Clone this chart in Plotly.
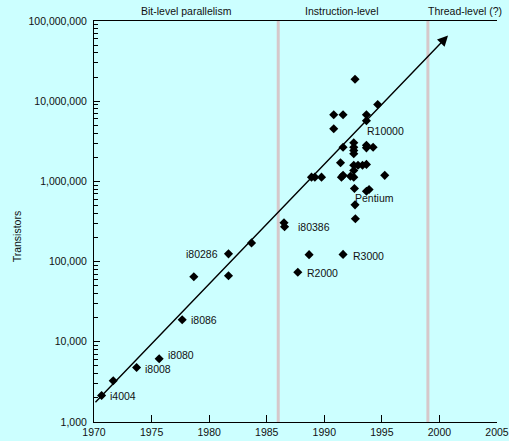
import math
import plotly.graph_objects as go

# ---- data ----
years = [1970.66, 1971.67, 1973.70, 1975.66, 1977.66, 1978.67, 1981.68, 1981.68, 1983.68,
         1986.50, 1986.55, 1992.70, 1988.68, 1991.63, 1987.70,
         1992.67, 1990.82, 1991.63, 1993.66, 1994.64, 1993.66, 1990.82,
         1991.63, 1992.56, 1992.56, 1992.56, 1992.56, 1993.66, 1993.66, 1994.24,
         1991.41, 1992.56, 1992.93, 1993.32, 1993.66, 1992.56,
         1991.63, 1991.49, 1992.27, 1992.56, 1995.25, 1988.89, 1989.18, 1989.76,
         1992.62, 1993.66, 1993.89, 1992.67]
transistors = [2140, 3270, 4780, 6140, 18800, 64600, 125000, 66500, 171000,
               305000, 272000, 342000, 122000, 123000, 73800,
               18.8e6, 6.77e6, 6.77e6, 6.77e6, 9.1e6, 5.7e6, 4.53e6,
               2.67e6, 3.03e6, 2.67e6, 2.43e6, 2.21e6, 2.82e6, 2.62e6, 2.67e6,
               1.71e6, 1.59e6, 1.59e6, 1.59e6, 1.63e6, 1.37e6,
               1.19e6, 1.13e6, 1.16e6, 1.13e6, 1.19e6, 1.13e6, 1.13e6, 1.13e6,
               815000, 755000, 792000, 510000]

label_names = ["i4004", "i8008", "i8080", "i8086", "i80286", "i80386",
               "R3000", "R2000", "R10000", "Pentium"]
label_points = [0, 2, 3, 4, 6, 9, 13, 14, 20, 44]

trend_years = [1970.0, 2000.75]
trend_values = [1690, 6.6e7]

era_names = ["Bit-level parallelism", "Instruction-level", "Thread-level (?)"]
era_centers = [1978.0, 1991.5, 2002.2]
era_bounds = [1986.0, 1999.0]

x_ticks = [1970, 1975, 1980, 1985, 1990, 1995, 2000, 2005]
y_ticks = [1e3, 1e4, 1e5, 1e6, 1e7, 1e8]
y_ticktext = ["1,000", "10,000", "100,000", "1,000,000", "10,000,000", "100,000,000"]
ref_lines = [1e4, 1e6]

# ---- styling ----
FONT = "Liberation Sans, Arial, Helvetica, sans-serif"
BG = "#ccffff"
label_style = {
    "i4004": ("left", 6, 0), "i8008": ("left", 6, -1), "i8080": ("left", 7, 4),
    "i8086": ("left", 7, 0), "i80286": ("right", -8, 0), "i80386": ("left", 12, -4),
    "R3000": ("left", 8, -2), "R2000": ("left", 7, -1), "R10000": ("left", -1, -10),
    "Pentium": ("left", -1, -9),
}

fig = go.Figure()

for xb in era_bounds:
    fig.add_shape(type="line", xref="x", yref="paper", x0=xb, x1=xb, y0=0, y1=1,
                  line=dict(color="#d6c8ca", width=3), layer="below")
for yl in ref_lines:
    fig.add_shape(type="line", xref="paper", yref="y", x0=0, x1=1,
                  y0=math.log10(yl), y1=math.log10(yl),
                  line=dict(color="#3a3a3a", width=1.2), layer="below")

fig.add_trace(go.Scatter(x=years, y=transistors, mode="markers",
                         marker=dict(symbol="diamond", size=7, color="black"),
                         hoverinfo="x+y"))

annotations = []
annotations.append(dict(x=trend_years[1], y=math.log10(trend_values[1]),
                        ax=trend_years[0], ay=math.log10(trend_values[0]),
                        xref="x", yref="y", axref="x", ayref="y", text="",
                        showarrow=True, arrowhead=2, arrowsize=1.5, arrowwidth=1.4,
                        arrowcolor="black", standoff=0, startstandoff=0))

for name, idx in zip(label_names, label_points):
    anc, xs, ys = label_style[name]
    annotations.append(dict(x=years[idx], y=math.log10(transistors[idx]), xref="x", yref="y",
                            text=name, showarrow=False, xanchor=anc, yanchor="middle",
                            xshift=xs, yshift=ys, font=dict(family=FONT, size=10.5, color="#111")))

for name, xc in zip(era_names, era_centers):
    annotations.append(dict(x=xc, y=1, xref="x", yref="paper", text=name, showarrow=False,
                            xanchor="center", yanchor="bottom", yshift=2,
                            font=dict(family=FONT, size=10.5, color="#111")))

annotations.append(dict(x=-0.191, y=0.463, xref="paper", yref="paper", text="Transistors",
                        textangle=-90, showarrow=False, xanchor="center", yanchor="middle",
                        font=dict(family=FONT, size=10.5, color="#111")))

fig.update_layout(
    width=509, height=441,
    margin=dict(l=94, r=12, t=21, b=19),
    paper_bgcolor=BG, plot_bgcolor=BG,
    showlegend=False,
    annotations=annotations,
    font=dict(family=FONT, size=10.5, color="#111"),
    xaxis=dict(range=[1970, 2005], tickvals=x_ticks, ticks="inside", ticklen=7,
               tickcolor="black", showline=True, linecolor="black", linewidth=1,
               mirror=True, showgrid=False, zeroline=False, automargin=False,
               tickfont=dict(family=FONT, size=10.5, color="#111")),
    yaxis=dict(type="log", range=[3, 8], tickvals=y_ticks, ticktext=y_ticktext,
               ticks="inside", ticklen=6, tickcolor="black", showline=True,
               linecolor="black", linewidth=1, showgrid=False, zeroline=False,
               automargin=False, ticklabelstandoff=4,
               minor=dict(ticks="inside", ticklen=4, tickcolor="black", dtick="D1",
                          showgrid=False),
               tickfont=dict(family=FONT, size=10.5, color="#111")),
)

fig.write_html("out.html", config={"displayModeBar": False},
               post_script="document.body.style.margin='0';document.body.style.padding='0';"
                           "document.body.style.background='" + BG + "';")
